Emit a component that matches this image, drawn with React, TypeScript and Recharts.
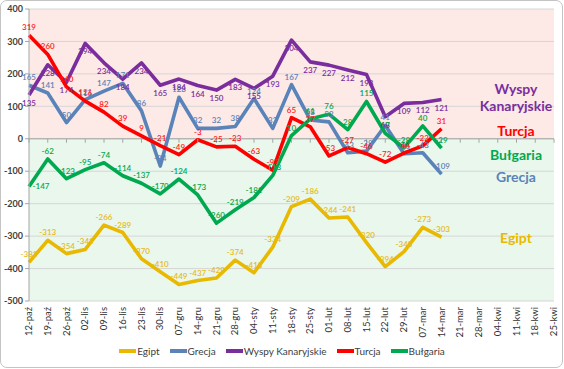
import React from "react";
import {
  LineChart,
  Line,
  XAxis,
  YAxis,
  CartesianGrid,
  ReferenceLine,
} from "recharts";

// weekly categories (first day of week)
const categories = [
  "12-paź", "19-paź", "26-paź", "02-lis", "09-lis", "16-lis", "23-lis", "30-lis",
  "07-gru", "14-gru", "21-gru", "28-gru", "04-sty", "11-sty", "18-sty", "25-sty",
  "01-lut", "08-lut", "15-lut", "22-lut", "29-lut", "07-mar", "14-mar", "21-mar",
  "28-mar", "04-kwi", "11-kwi", "18-kwi", "25-kwi",
];

const egipt = [-381, -313, -354, -341, -266, -289, -370, -410, -449, -437, -429, -374, -413, -334, -209, -186, -244, -241, -320, -394, -348, -273, -303];
const grecja = [165, 141, 50, 121, 147, 171, 86, -84, 128, 32, 32, 38, 124, 32, 167, 58, 52, -43, -38, 41, -46, -43, -109];
const wyspy = [135, 228, 174, 294, 234, 184, 234, 165, 184, 164, 150, 183, 155, 193, 304, 237, 227, 212, 198, 68, 109, 112, 121];
const turcja = [319, 260, 160, 116, 82, 39, 9, -21, -49, -3, -25, -23, -63, -97, 65, 37, -53, -27, -46, -72, -44, -22, 31];
const bulgaria = [-147, -62, -123, -95, -74, -114, -137, -170, -124, -173, -260, -219, -181, -113, 10, 61, 76, 28, 115, 17, -28, 40, -29];

const yTicks = [400, 300, 200, 100, 0, -100, -200, -300, -400, -500];

const FONT = "Lato, 'Open Sans', sans-serif";

const series = [
  { key: "egipt", name: "Egipt", color: "#E8B900", labelColor: "#E6BA1E", dy: -5, edgeRight: false },
  { key: "grecja", name: "Grecja", color: "#5A83B9", labelColor: "#5A83B9", dy: -5, edgeRight: false },
  { key: "wyspy", name: "Wyspy Kanaryjskie", color: "#7A2E9E", labelColor: "#7A2E9E", dy: 11, edgeRight: false },
  { key: "turcja", name: "Turcja", color: "#FF0000", labelColor: "#FF1A1A", dy: -5, edgeRight: false },
  { key: "bulgaria", name: "Bułgaria", color: "#00A84F", labelColor: "#00A84F", dy: -5, edgeRight: true },
];

const data = categories.map((cat, i) => ({
  cat,
  egipt: egipt[i] ?? null,
  grecja: grecja[i] ?? null,
  wyspy: wyspy[i] ?? null,
  turcja: turcja[i] ?? null,
  bulgaria: bulgaria[i] ?? null,
}));

function DataLabel(props: any) {
  const { x, y, value, color, dy, edgeRight } = props;
  if (value == null || x == null || y == null) return null;
  // the first green label sits to the right of its point
  const shift = edgeRight && x < 40;
  return (
    <text
      x={shift ? x + 12 : x}
      y={shift ? y + 3 : y + dy}
      fill={color}
      fontSize={8}
      fontWeight={600}
      fontFamily={FONT}
      textAnchor="middle"
    >
      {value}
    </text>
  );
}

function CatTick(props: any) {
  const { x, y, payload } = props;
  return (
    <text
      transform={`translate(${x + 3}, ${y}) rotate(-90)`}
      textAnchor="end"
      fontSize={9.5}
      fontFamily={FONT}
      fill="#333"
    >
      {payload.value}
    </text>
  );
}

// small tick marks drawn on the zero line, one per category
function ZeroTick(props: any) {
  const { cx, cy } = props;
  if (cx == null || cy == null) return null;
  return <line x1={cx} y1={cy} x2={cx} y2={cy + 4} stroke="#A6A6A6" strokeWidth={1} />;
}

const sideLabels = [
  { text: ["Wyspy", "Kanaryjskie"], color: "#7A2E9E", top: 80 },
  { text: ["Turcja"], color: "#FF0000", top: 122 },
  { text: ["Bułgaria"], color: "#00A84F", top: 146 },
  { text: ["Grecja"], color: "#5A83B9", top: 168 },
  { text: ["Egipt"], color: "#E8B900", top: 229 },
];

export default function App() {
  return (
    <div
      style={{
        position: "absolute",
        left: 0,
        top: 0,
        width: 564,
        height: 369,
        background: "#fff",
        fontFamily: FONT,
      }}
    >
      <div
        style={{
          position: "absolute",
          left: 0,
          top: 0,
          width: 563,
          height: 368,
          border: "1px solid #C4C4C4",
          borderRadius: 7,
          boxSizing: "border-box",
        }}
      />
      <LineChart
        width={564}
        height={369}
        data={data}
        margin={{ top: 9, right: 10, bottom: 28, left: 0 }}
        style={{ position: "absolute", left: 0, top: 0 }}
      >
        <CartesianGrid
          vertical={false}
          stroke="#D6D6D6"
          fillOpacity={1}
          horizontalFill={[
            "#FDE9E6", "#FDE9E6", "#FDE9E6", "#FDE9E6",
            "#E9F7EC", "#E9F7EC", "#E9F7EC", "#E9F7EC", "#E9F7EC",
          ]}
        />
        <XAxis
          dataKey="cat"
          interval={0}
          axisLine={false}
          tickLine={false}
          tickSize={4}
          height={40}
          tick={<CatTick />}
        />
        <YAxis
          domain={[-500, 400]}
          ticks={yTicks}
          width={29}
          interval={0}
          tick={{ fontSize: 9, fontWeight: 700, fill: "#404040", fontFamily: FONT }}
          tickSize={4}
          tickMargin={2}
          axisLine={{ stroke: "#A6A6A6" }}
          tickLine={{ stroke: "#A6A6A6" }}
        />
        <ReferenceLine y={0} stroke="#A6A6A6" strokeWidth={1} />
        <Line
          dataKey={() => 0}
          stroke="none"
          dot={<ZeroTick />}
          activeDot={false}
          legendType="none"
          isAnimationActive={false}
        />
        {series.map((s) => (
          <Line
            key={s.key}
            dataKey={s.key}
            name={s.name}
            stroke={s.color}
            strokeWidth={3.6}
            strokeLinejoin="round"
            dot={false}
            activeDot={false}
            connectNulls={false}
            isAnimationActive={false}
            label={(p: any) => (
              <DataLabel {...p} color={s.labelColor} dy={s.dy} edgeRight={s.edgeRight} />
            )}
          />
        ))}
      </LineChart>

      {sideLabels.map((l) => (
        <div
          key={l.text.join(" ")}
          style={{
            position: "absolute",
            left: 466,
            width: 100,
            top: l.top,
            textAlign: "center",
            color: l.color,
            fontWeight: 700,
            fontSize: 14,
            lineHeight: "17px",
          }}
        >
          {l.text.map((t) => (
            <div key={t}>{t}</div>
          ))}
        </div>
      ))}

      <div
        style={{
          position: "absolute",
          top: 345,
          left: 0,
          width: 564,
          display: "flex",
          justifyContent: "center",
          fontSize: 10,
          color: "#404040",
          gap: 10,
        }}
      >
        {series.map((s) => (
          <div key={s.key} style={{ display: "flex", alignItems: "center" }}>
            <span
              style={{
                display: "inline-block",
                width: 17,
                height: 4,
                background: s.color,
                marginRight: 1,
              }}
            />
            <span>{s.name}</span>
          </div>
        ))}
      </div>
    </div>
  );
}
